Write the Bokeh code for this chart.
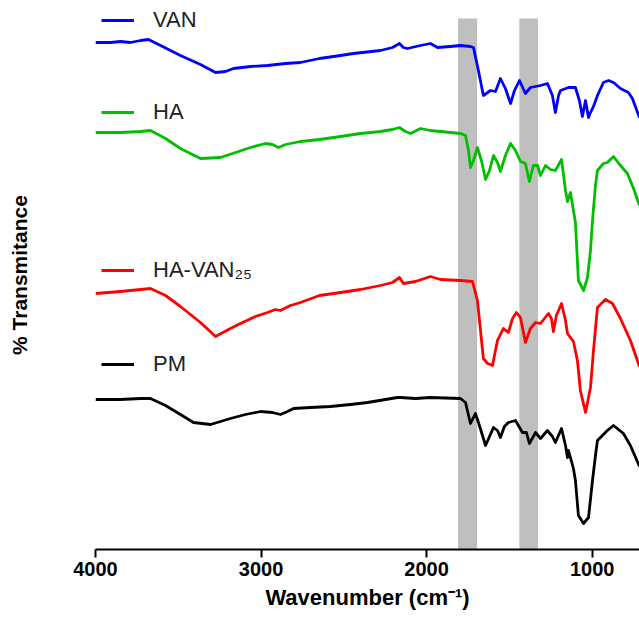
from bokeh.plotting import figure
from bokeh.models import Range1d, FixedTicker, BoxAnnotation, Legend, LegendItem
from bokeh.embed import file_html
from bokeh.resources import INLINE

# ---- data (wavenumber cm^-1, transmittance in arbitrary offset units) ----
van_wn = [4000, 3909, 3849, 3789, 3728, 3680, 3607, 3487, 3366, 3275, 3215, 3166, 3064, 2961, 2852,
          2762, 2647, 2520, 2442, 2279, 2206, 2164, 2140, 2116, 2037, 1977, 1934, 1856, 1795, 1735,
          1717, 1687, 1657, 1614, 1584, 1554, 1524, 1493, 1469, 1439, 1403, 1373, 1312, 1270, 1240,
          1222, 1203, 1191, 1143, 1101, 1077, 1059, 1040, 1022, 1010, 992, 968, 932, 901, 871,
          829, 781, 757, 714]
van_t = [507, 507, 508, 507, 509, 510, 504, 494, 485, 477, 478, 481, 483, 484, 486,
         487, 491, 494, 496, 499, 502, 506, 502, 501, 504, 506, 502, 503, 504, 503,
         502, 479, 454, 459, 458, 471, 461, 446, 459, 469, 456, 462, 464, 466, 454,
         437, 454, 459, 462, 462, 449, 433, 449, 432, 437, 443, 454, 467, 469, 467,
         461, 457, 451, 432]

ha_wn = [4000, 3849, 3728, 3668, 3577, 3487, 3366, 3245, 3154, 3064, 2973, 2931, 2895, 2852, 2762,
         2647, 2520, 2399, 2279, 2206, 2164, 2128, 2097, 2037, 1977, 1916, 1795, 1765, 1747, 1735,
         1717, 1693, 1669, 1644, 1620, 1596, 1572, 1554, 1524, 1493, 1463, 1433, 1403, 1379, 1355,
         1330, 1312, 1282, 1252, 1222, 1185, 1161, 1149, 1131, 1113, 1101, 1083, 1052, 1028, 1010,
         998, 980, 968, 932, 908, 871, 829, 787, 750, 714]
ha_t = [417, 417, 418, 419, 411, 401, 391, 392, 397, 402, 406, 405, 402, 405, 408,
        410, 413, 416, 418, 420, 422, 418, 416, 421, 419, 418, 416, 414, 399, 382,
        389, 402, 389, 370, 379, 394, 387, 378, 394, 406, 399, 388, 386, 368, 384,
        384, 374, 384, 380, 379, 390, 359, 348, 357, 339, 327, 269, 259, 272, 299,
        329, 364, 379, 386, 387, 393, 384, 376, 361, 344]

havan_wn = [4000, 3849, 3728, 3668, 3577, 3487, 3366, 3275, 3197, 3124, 3034, 2961, 2913, 2883, 2822,
            2762, 2647, 2520, 2399, 2279, 2206, 2164, 2140, 2067, 1977, 1916, 1795, 1723, 1693, 1657,
            1632, 1602, 1572, 1536, 1506, 1481, 1457, 1433, 1403, 1373, 1342, 1312, 1264, 1246, 1234,
            1216, 1185, 1161, 1149, 1113, 1089, 1071, 1040, 1010, 992, 968, 920, 877, 829, 769, 714]
havan_t = [256, 258, 260, 261, 254, 243, 227, 213, 220, 226, 233, 237, 240, 239, 244,
           247, 254, 257, 260, 264, 267, 272, 266, 268, 273, 270, 269, 268, 249, 191,
           186, 184, 209, 221, 217, 231, 237, 232, 207, 221, 227, 226, 236, 231, 218,
           234, 246, 229, 216, 208, 189, 159, 137, 162, 199, 242, 250, 246, 231, 209, 183]

pm_wn = [4000, 3849, 3728, 3668, 3577, 3487, 3408, 3305, 3185, 3094, 3003, 2931, 2883, 2840, 2804,
         2701, 2581, 2460, 2357, 2248, 2176, 2158, 2067, 1977, 1795, 1765, 1735, 1705, 1681, 1644,
         1620, 1596, 1572, 1554, 1530, 1506, 1463, 1421, 1397, 1379, 1342, 1312, 1270, 1240, 1222,
         1185, 1161, 1149, 1143, 1113, 1101, 1083, 1052, 1022, 998, 980, 968, 908, 871, 811, 769, 714]
pm_t = [150, 150, 151, 151, 144, 135, 127, 125, 131, 135, 138, 137, 135, 138, 141,
        142, 143, 145, 147, 150, 152, 152, 151, 152, 151, 147, 126, 136, 124, 104,
        113, 122, 119, 112, 123, 127, 129, 117, 117, 106, 117, 111, 119, 113, 107,
        121, 104, 92, 99, 81, 69, 34, 26, 32, 69, 94, 109, 119, 124, 116, 104, 83]

bands = [(1810, 1695), (1440, 1327)]
band_top = 531

ticks = [4000, 3000, 2000, 1000]

p = figure(width=639, height=619, output_backend="svg", toolbar_location=None,
           x_range=Range1d(4000, 714), y_range=Range1d(0, 549),
           min_border_left=95, min_border_right=0, min_border_top=0, min_border_bottom=70)
p.outline_line_color = None
p.xgrid.visible = False
p.ygrid.visible = False
p.background_fill_color = "white"

for lo_hi in bands:
    p.add_layout(BoxAnnotation(left=lo_hi[1], right=lo_hi[0], top=band_top,
                               fill_color="#bfbfbf", fill_alpha=1.0, line_color=None,
                               level="underlay"))

lw = 2.8
r_van = p.line(van_wn, van_t, line_color="#0000ff", line_width=lw, line_join="round")
r_ha = p.line(ha_wn, ha_t, line_color="#00bf00", line_width=lw, line_join="round")
r_havan = p.line(havan_wn, havan_t, line_color="#ff0000", line_width=lw, line_join="round")
r_pm = p.line(pm_wn, pm_t, line_color="#000000", line_width=lw, line_join="round")

# x axis
xa = p.xaxis[0]
xa.ticker = FixedTicker(ticks=ticks)
xa.minor_tick_line_color = None
xa.major_tick_in = 0
xa.major_tick_out = 8
xa.major_tick_line_width = 2
xa.axis_line_width = 2
xa.major_label_text_font = "Liberation Sans"
xa.major_label_text_font_style = "bold"
xa.major_label_text_font_size = "20px"
xa.major_label_text_color = "black"
xa.major_label_standoff = 4
xa.axis_label = "Wavenumber (cm\u207b\u00b9)"
xa.axis_label_text_font = "Liberation Sans"
xa.axis_label_text_font_style = "bold"
xa.axis_label_text_font_size = "22px"
xa.axis_label_text_color = "black"
xa.axis_label_standoff = 6

# y axis: label only
ya = p.yaxis[0]
ya.ticker = FixedTicker(ticks=[])
ya.axis_line_color = None
ya.major_tick_line_color = None
ya.minor_tick_line_color = None
ya.major_label_text_font_size = "0px"
ya.axis_label = "% Transmitance"
ya.axis_label_text_font = "Liberation Sans"
ya.axis_label_text_font_style = "bold"
ya.axis_label_text_font_size = "21px"
ya.axis_label_text_color = "black"
ya.axis_label_standoff = 65

def add_leg(label, r, loc):
    leg = Legend(items=[LegendItem(label=label, renderers=[r])], location=loc,
                 padding=0, margin=0, spacing=0, border_line_color=None,
                 background_fill_alpha=0, glyph_width=33, glyph_height=20,
                 label_height=20, label_standoff=19,
                 label_text_font="Liberation Sans", label_text_font_size="22px",
                 label_text_color="#222222")
    p.add_layout(leg)

add_leg("VAN", r_van, (6, 516))
add_leg("HA", r_ha, (6, 424))
add_leg("HA-VAN\u2082\u2085", r_havan, (6, 266))
add_leg("PM", r_pm, (6, 172))

open("out.html", "w").write(file_html(p, INLINE))
